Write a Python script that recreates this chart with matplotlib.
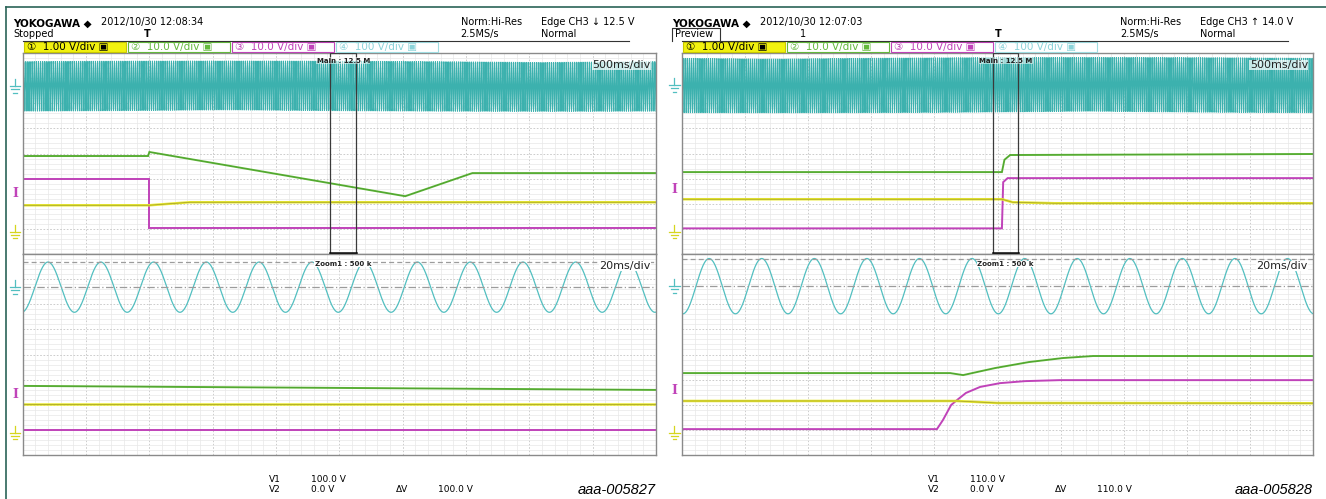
import numpy as np
import matplotlib.pyplot as plt
from matplotlib.patches import Rectangle

W, H = 1326, 499

# ---- values read off the two scope captures ----
# vertical positions are screen divisions (8 div per window, 0 = window centre)
# left capture (aaa-005827), main window 500 ms/div, time in s
L_MAIN_GREEN_T = [0.0, 0.99, 1.00, 3.02, 3.55, 5.0]
L_MAIN_GREEN_V = [-0.10, -0.10, 0.06, -1.70, -0.78, -0.78]
L_MAIN_MAG_T = [0.0, 1.00, 1.00, 5.0]
L_MAIN_MAG_V = [-1.02, -1.02, -2.98, -2.98]
L_MAIN_YEL_T = [0.0, 1.00, 1.32, 5.0]
L_MAIN_YEL_V = [-2.06, -2.06, -1.94, -1.94]
# left zoom window 20 ms/div, time in ms
L_ZOOM_GREEN_T = [0, 200]
L_ZOOM_GREEN_V = [-1.25, -1.41]
L_ZOOM_YEL_T = [0, 200]
L_ZOOM_YEL_V = [-1.97, -1.97]
L_ZOOM_MAG_T = [0, 200]
L_ZOOM_MAG_V = [-3.0, -3.0]

# right capture (aaa-005828)
R_MAIN_GREEN_T = [0.0, 2.535, 2.555, 2.60, 5.0]
R_MAIN_GREEN_V = [-0.74, -0.74, -0.25, -0.06, -0.02]
R_MAIN_MAG_T = [0.0, 2.535, 2.545, 2.58, 5.0]
R_MAIN_MAG_V = [-2.98, -2.98, -1.14, -0.98, -0.98]
R_MAIN_YEL_T = [0.0, 2.535, 2.62, 2.95, 5.0]
R_MAIN_YEL_V = [-1.82, -1.82, -1.94, -1.98, -1.98]
R_ZOOM_GREEN_T = [0, 85, 89.1, 99.2, 110.0, 120.8, 130.3, 200]
R_ZOOM_GREEN_V = [-0.74, -0.74, -0.82, -0.54, -0.30, -0.14, -0.06, -0.06]
R_ZOOM_MAG_T = [0, 80.8, 82.7, 85.3, 87.2, 90.0, 94.5, 100.8, 108.7, 119.8, 200]
R_ZOOM_MAG_V = [-2.97, -2.97, -2.61, -2.01, -1.81, -1.53, -1.29, -1.14, -1.06, -1.02, -1.02]
R_ZOOM_YEL_T = [0, 87, 100, 200]
R_ZOOM_YEL_V = [-1.85, -1.85, -1.93, -1.94]

# CH4 mains (cyan)
CH4_VDIV = 100.0
MAINS_HZ = 60.0
L_CH4_GND, L_CH4_PEAK, L_FIRST_PEAK_MS = 2.68, 100.0, 8.0
R_CH4_GND, R_CH4_PEAK, R_FIRST_PEAK_MS = 2.72, 110.0, 8.6

# zoom window position in main window (s) and other markers
L_ZOOM_CENTER, R_ZOOM_CENTER = 2.53, 2.565
ZOOM_SPAN = 0.2
L_TRIG_DIV, R_TRIG_DIV = -1.6, -1.42
CH1_GND_DIV = -3.12

CH_LABELS = ['1.00 V/div', '10.0 V/div', '10.0 V/div', '100 V/div']
L_HEAD = dict(date='2012/10/30 12:08:34', state='Stopped', edge='Edge CH3 \u2193 12.5 V',
              v1='100.0 V', v2='0.0 V', dv='100.0 V', code='aaa-005827')
R_HEAD = dict(date='2012/10/30 12:07:03', state='Preview', edge='Edge CH3 \u2191 14.0 V',
              v1='110.0 V', v2='0.0 V', dv='110.0 V', code='aaa-005828')

CYAN = '#52bfc0'
CYAN_BAND = '#3cb1ae'
GREEN = '#63b93c'
GREEN_D = '#3b8b22'
MAG = '#c043b9'
YEL = '#e8e832'
YEL_D = '#6f6b1e'
FONT = ['Liberation Sans Narrow', 'DejaVu Sans', 'Noto Sans CJK JP']

fig = plt.figure(figsize=(W / 100, H / 100), dpi=100)
over = fig.add_axes([0, 0, 1, 1], zorder=5)
over.set_xlim(0, W)
over.set_ylim(H, 0)
over.axis('off')
over.patch.set_alpha(0)


def px_axes(x0, y0, x1, y1):
    return fig.add_axes([x0 / W, 1 - y1 / H, (x1 - x0) / W, (y1 - y0) / H])


def setup_grid(ax, span):
    ax.set_xlim(0, span)
    ax.set_ylim(-4, 4)
    ax.set_xticks(np.linspace(0, span, 11))
    ax.set_xticks(np.linspace(0, span, 51), minor=True)
    ax.set_yticks(np.arange(-4, 5, 1))
    ax.set_yticks(np.arange(-4, 4.01, 0.2), minor=True)
    ax.grid(which='minor', color='#e8e8e8', lw=0.5)
    ax.grid(which='major', color='#c4c4c4', lw=0.6, ls=(0, (2, 2)))
    ax.tick_params(which='both', length=0, labelbottom=False, labelleft=False)
    for s in ax.spines.values():
        s.set_color('#8a8a8a')
        s.set_linewidth(1.0)
    ax.set_axisbelow(True)


def trace(ax, t, v, color, dark=None, lw=1.4):
    ax.plot(t, v, color=color, lw=lw, solid_joinstyle='miter')
    if dark:
        ax.plot(t, v, color=dark, lw=0.5, alpha=0.6)


def ground_mark(ax, level, color):
    # earth symbol left of the screen: short stem, three shrinking bars
    tr = ax.get_yaxis_transform()
    xc = -0.012
    ax.plot([xc, xc], [level + 0.28, level], color=color, lw=0.9, transform=tr, clip_on=False)
    for k, half in enumerate([0.0085, 0.0058, 0.003]):
        y = level - 0.13 * k
        ax.plot([xc - half, xc + half], [y, y], color=color, lw=0.9, transform=tr, clip_on=False)


def panel(gx0, gx1, head, main, zoom, gnd, peak, first_peak, zc, trig):
    top = px_axes(gx0, 53, gx1, 254)
    low = px_axes(gx0, 254, gx1, 455)
    setup_grid(top, 5.0)
    setup_grid(low, 200.0)

    # mains, main window (300 cycles squeezed into the screen)
    t = np.linspace(0, 5.0, 2700)
    top.plot(t, gnd + peak / CH4_VDIV * np.cos(2 * np.pi * MAINS_HZ * (t - first_peak / 1000)),
             color=CYAN_BAND, lw=0.8)
    (gt, gv), (mt, mv), (yt, yv) = main
    trace(top, gt, gv, GREEN, GREEN_D)
    trace(top, mt, mv, MAG)
    trace(top, yt, yv, YEL, YEL_D, lw=1.8)

    # zoom frame
    top.add_patch(Rectangle((zc - ZOOM_SPAN / 2, -4), ZOOM_SPAN, 8, fill=False,
                            ec='#3a3a3a', lw=0.9, zorder=6))
    top.plot([zc - ZOOM_SPAN / 2, zc + ZOOM_SPAN / 2], [-3.96, -3.96], color='black', lw=1.8, zorder=6)
    top.text(zc, 3.82, 'Main : 12.5 M', ha='center', va='top', fontsize=5, weight='bold',
             family=FONT, color='#222222', zorder=7,
             bbox=dict(fc='white', ec='none', alpha=0.5, pad=0.3))
    top.text(0.992, 0.965, '500ms/div', transform=top.transAxes, ha='right', va='top',
             fontsize=8, family=FONT, color='#222222', zorder=7,
             bbox=dict(fc='white', ec='none', alpha=0.7, pad=0.3))

    # zoom window
    tz = np.linspace(0, 200, 2400)
    low.plot(tz, gnd + peak / CH4_VDIV * np.cos(2 * np.pi * MAINS_HZ * (tz - first_peak) / 1000),
             color=CYAN, lw=0.9)
    low.axhline(gnd + peak / CH4_VDIV, color='#9c9c9c', lw=0.9, ls=(0, (4, 2.5)))
    low.axhline(gnd, color='#9c9c9c', lw=0.9, ls=(0, (6, 2, 1, 2)))
    (gt, gv), (mt, mv), (yt, yv) = zoom
    trace(low, gt, gv, GREEN, GREEN_D)
    trace(low, mt, mv, MAG)
    trace(low, yt, yv, YEL, YEL_D, lw=1.8)
    low.text(zc / 5.0, 0.965, 'Zoom1 : 500 k', transform=low.transAxes, ha='center', va='top',
             fontsize=5, weight='bold', family=FONT, color='#222222', zorder=7,
             bbox=dict(fc='white', ec='none', pad=0.3))
    low.text(0.992, 0.965, '20ms/div', transform=low.transAxes, ha='right', va='top',
             fontsize=8, family=FONT, color='#222222', zorder=7,
             bbox=dict(fc='white', ec='none', pad=0.3))

    # side markers
    for ax in (top, low):
        ground_mark(ax, gnd, CYAN)
        ground_mark(ax, CH1_GND_DIV, '#d6d61e')
        ax.text(-0.012, trig, 'I', transform=ax.get_yaxis_transform(), color=MAG,
                ha='center', va='center', clip_on=False, fontsize=9, weight='bold',
                family='DejaVu Serif')

    # header text
    x = gx0 - 10
    over.text(x, 24, 'YOKOGAWA \u25c6', fontsize=7.5, weight='bold', family=FONT, va='center')
    over.text(x + 88, 22, head['date'], fontsize=7, family=FONT, va='center')
    if head['state'] == 'Preview':
        over.text(x + 3, 34, head['state'], fontsize=7, family=FONT, va='center')
        over.plot([x, x, x + 48, x + 48], [41, 28, 28, 41], color='#333333', lw=0.8)
        over.text(x + 128, 34, '1', fontsize=7, family=FONT, va='center')
        trig_x = gx0 + 316
    else:
        over.text(x + 1, 34, head['state'], fontsize=7, family=FONT, va='center')
        trig_x = gx0 + 125
    over.text(trig_x, 34, 'T', fontsize=7, weight='bold', family=FONT, va='center', ha='center')
    over.text(x + 448, 22, 'Norm:Hi-Res', fontsize=7, family=FONT, va='center')
    over.text(x + 448, 34, '2.5MS/s', fontsize=7, family=FONT, va='center')
    over.text(x + 528, 22, head['edge'], fontsize=7, family=FONT, va='center')
    over.text(x + 528, 34, 'Normal', fontsize=7, family=FONT, va='center')
    over.plot([gx0, gx0 + 606], [40.5, 40.5], color='#333333', lw=0.8)

    # channel boxes
    styles = [('#f2f20f', '#c8c800', 'black'), ('white', GREEN, GREEN),
              ('white', MAG, MAG), ('white', '#9fdde2', '#8ad3d9')]
    for i, (lab, (fc, ec, tc)) in enumerate(zip(CH_LABELS, styles)):
        bx = gx0 + 1 + i * 104
        over.add_patch(Rectangle((bx, 41.5), 102, 10, fc=fc, ec=ec, lw=0.8))
        over.text(bx + 3, 46.8, '\u2460\u2461\u2462\u2463'[i] + '  ' + lab + ' \u25a3',
                  fontsize=7.5, family=FONT, color=tc, va='center')

    # cursor read-out
    over.text(x + 256, 480, 'V1', fontsize=6.5, family=FONT, va='center')
    over.text(x + 256, 489, 'V2', fontsize=6.5, family=FONT, va='center')
    over.text(x + 298, 480, head['v1'], fontsize=6.5, family=FONT, va='center')
    over.text(x + 298, 489, head['v2'], fontsize=6.5, family=FONT, va='center')
    over.text(x + 383, 489, '\u0394V', fontsize=6.5, family=FONT, va='center')
    over.text(x + 425, 489, head['dv'], fontsize=6.5, family=FONT, va='center')
    over.text(gx1, 490, head['code'], fontsize=10.5, style='italic',
              family=['Liberation Sans', 'DejaVu Sans'], ha='right', va='center')


panel(22.7, 656, L_HEAD,
      [(L_MAIN_GREEN_T, L_MAIN_GREEN_V), (L_MAIN_MAG_T, L_MAIN_MAG_V), (L_MAIN_YEL_T, L_MAIN_YEL_V)],
      [(L_ZOOM_GREEN_T, L_ZOOM_GREEN_V), (L_ZOOM_MAG_T, L_ZOOM_MAG_V), (L_ZOOM_YEL_T, L_ZOOM_YEL_V)],
      L_CH4_GND, L_CH4_PEAK, L_FIRST_PEAK_MS, L_ZOOM_CENTER, L_TRIG_DIV)
panel(682, 1313, R_HEAD,
      [(R_MAIN_GREEN_T, R_MAIN_GREEN_V), (R_MAIN_MAG_T, R_MAIN_MAG_V), (R_MAIN_YEL_T, R_MAIN_YEL_V)],
      [(R_ZOOM_GREEN_T, R_ZOOM_GREEN_V), (R_ZOOM_MAG_T, R_ZOOM_MAG_V), (R_ZOOM_YEL_T, R_ZOOM_YEL_V)],
      R_CH4_GND, R_CH4_PEAK, R_FIRST_PEAK_MS, R_ZOOM_CENTER, R_TRIG_DIV)

# outer frame of the sheet
over.plot([5.5, W], [6.5, 6.5], color='#2a6458', lw=1.2)
over.plot([5.5, 5.5], [6.5, H], color='#2a6458', lw=1.2)

fig.savefig('out.png', dpi=100)
